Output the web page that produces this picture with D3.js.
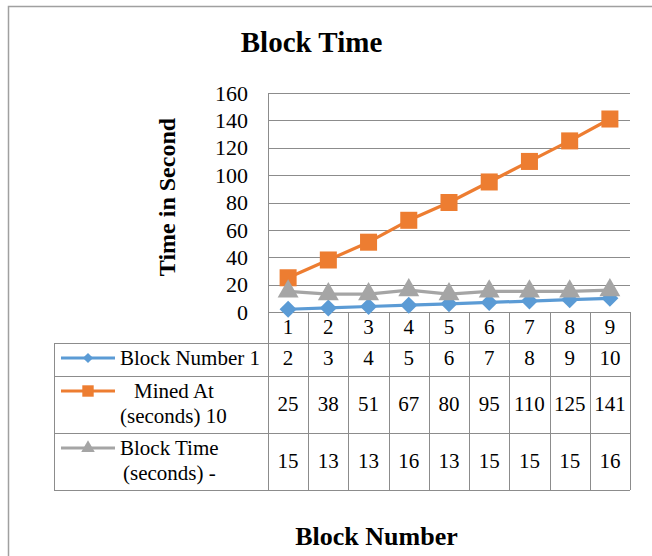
<!DOCTYPE html>
<html><head><meta charset="utf-8">
<script src="https://cdn.jsdelivr.net/npm/d3@7/dist/d3.min.js"></script>
<style>html,body{margin:0;padding:0;background:#fff;}svg{display:block;}</style>
</head><body>
<svg id="c" width="652" height="556"></svg>
<script>
const categories = [1,2,3,4,5,6,7,8,9];
const blockNumber = [2,3,4,5,6,7,8,9,10];
const minedAt = [25,38,51,67,80,95,110,125,141];
const blockTime = [15,13,13,16,13,15,15,15,16];
const yTicks = [0,20,40,60,80,100,120,140,160];
const seriesNames = [["Block Number 1"],["Mined At","(seconds) 10"],["Block Time","(seconds) -"]];
const title = "Block Time", xTitle = "Block Number", yTitle = "Time in Second";

const series = [
  {name: seriesNames[0], values: blockNumber, color: "#5B9BD5", marker: d3.symbolDiamond2},
  {name: seriesNames[1], values: minedAt, color: "#ED7D31", marker: d3.symbolSquare},
  {name: seriesNames[2], values: blockTime, color: "#A5A5A5", marker: d3.symbolTriangle}
];

const svg = d3.select("#c");
const F = "'Liberation Serif','Times New Roman',serif";
const L = 268, R = 630, T = 93, B = 312, TL = 54;
const rows = [312, 343, 376, 433, 490];
const gridC = "#8c8c8c";

svg.append("rect").attr("x",8.5).attr("y",6.5).attr("width",700).attr("height",600)
  .attr("fill","#fff").attr("stroke","#a0a0a0").attr("stroke-width",1.5);

const x = d3.scaleBand().domain(categories).range([L,R]);
const y = d3.scaleLinear().domain([0,160]).range([B,T]);

// gridlines
svg.append("g").selectAll("line").data(yTicks).join("line")
  .attr("x1",L).attr("x2",R).attr("y1",d=>Math.round(y(d))+0.5).attr("y2",d=>Math.round(y(d))+0.5)
  .attr("stroke",gridC).attr("stroke-width",1);
// y axis line
svg.append("line").attr("x1",L+0.5).attr("x2",L+0.5).attr("y1",T).attr("y2",rows[4])
  .attr("stroke",gridC);

// y tick labels
svg.append("g").selectAll("text").data(yTicks).join("text")
  .attr("x",248).attr("y",d=>y(d)).attr("dy","0.35em").attr("text-anchor","end")
  .attr("font-family",F).attr("font-size",22).text(d=>d);

// table
const tg = svg.append("g");
for (let i=1;i<rows.length;i++){
  tg.append("line").attr("x1",TL).attr("x2",R).attr("y1",rows[i]+0.5).attr("y2",rows[i]+0.5).attr("stroke",gridC);
}
tg.append("line").attr("x1",TL+0.5).attr("x2",TL+0.5).attr("y1",rows[1]).attr("y2",rows[4]).attr("stroke",gridC);
const bounds = categories.map(c=>x(c)+x.bandwidth()).concat([L]);
tg.selectAll("line.v").data(bounds).join("line").attr("class","v")
  .attr("x1",d=>Math.round(d)+0.5).attr("x2",d=>Math.round(d)+0.5).attr("y1",B).attr("y2",rows[4]).attr("stroke",gridC);

// category labels
tg.selectAll("text.cat").data(categories).join("text").attr("class","cat")
  .attr("x",d=>x(d)+x.bandwidth()/2).attr("y",334).attr("text-anchor","middle")
  .attr("font-family",F).attr("font-size",21).text(d=>d);

const rowBase = [365, 411, 468];
series.forEach((s,si)=>{
  tg.selectAll("text.v"+si).data(s.values).join("text").attr("class","v"+si)
    .attr("x",(d,i)=>x(categories[i])+x.bandwidth()/2).attr("y",rowBase[si]).attr("text-anchor","middle")
    .attr("font-family",F).attr("font-size",21).text(d=>d);
});

// legend keys in table
const keyY = [358, 391, 448];
const keySize = [66, 130, 80];
series.forEach((s,si)=>{
  tg.append("line").attr("x1",61).attr("x2",115).attr("y1",keyY[si]).attr("y2",keyY[si])
    .attr("stroke",s.color).attr("stroke-width",3);
  tg.append("path").attr("d",d3.symbol(s.marker, keySize[si])())
    .attr("transform",`translate(88,${keyY[si]})`).attr("fill",s.color);
});
const legText = [
  {t: seriesNames[0][0], x:120, y:365, a:"start"},
  {t: seriesNames[1][0], x:174, y:398, a:"middle"},
  {t: seriesNames[1][1], x:120, y:423, a:"start"},
  {t: seriesNames[2][0], x:120, y:455, a:"start"},
  {t: seriesNames[2][1], x:123, y:480, a:"start"}
];
tg.selectAll("text.leg").data(legText).join("text").attr("class","leg")
  .attr("x",d=>d.x).attr("y",d=>d.y).attr("text-anchor",d=>d.a)
  .attr("font-family",F).attr("font-size",21).text(d=>d.t);

// series lines + markers
const markerSize = [185, 290, 190];
series.forEach((s,si)=>{
  const line = d3.line().x((d,i)=>x(categories[i])+x.bandwidth()/2).y(d=>y(d));
  svg.append("path").datum(s.values).attr("d",line).attr("fill","none")
    .attr("stroke",s.color).attr("stroke-width",3.2).attr("stroke-linejoin","round");
  svg.append("g").selectAll("path").data(s.values).join("path")
    .attr("d",d3.symbol(s.marker, markerSize[si])())
    .attr("transform",(d,i)=>`translate(${x(categories[i])+x.bandwidth()/2},${y(d)})`)
    .attr("fill",s.color);
});

// titles
svg.append("text").attr("x",311.5).attr("y",52).attr("text-anchor","middle")
  .attr("font-family",F).attr("font-weight","bold").attr("font-size",29).text(title);
svg.append("text").attr("x",376.5).attr("y",545).attr("text-anchor","middle")
  .attr("font-family",F).attr("font-weight","bold").attr("font-size",26).text(xTitle);
svg.append("text").attr("transform","translate(175,197) rotate(-90)").attr("text-anchor","middle")
  .attr("font-family",F).attr("font-weight","bold").attr("font-size",24).text(yTitle);
</script>
</body></html>
